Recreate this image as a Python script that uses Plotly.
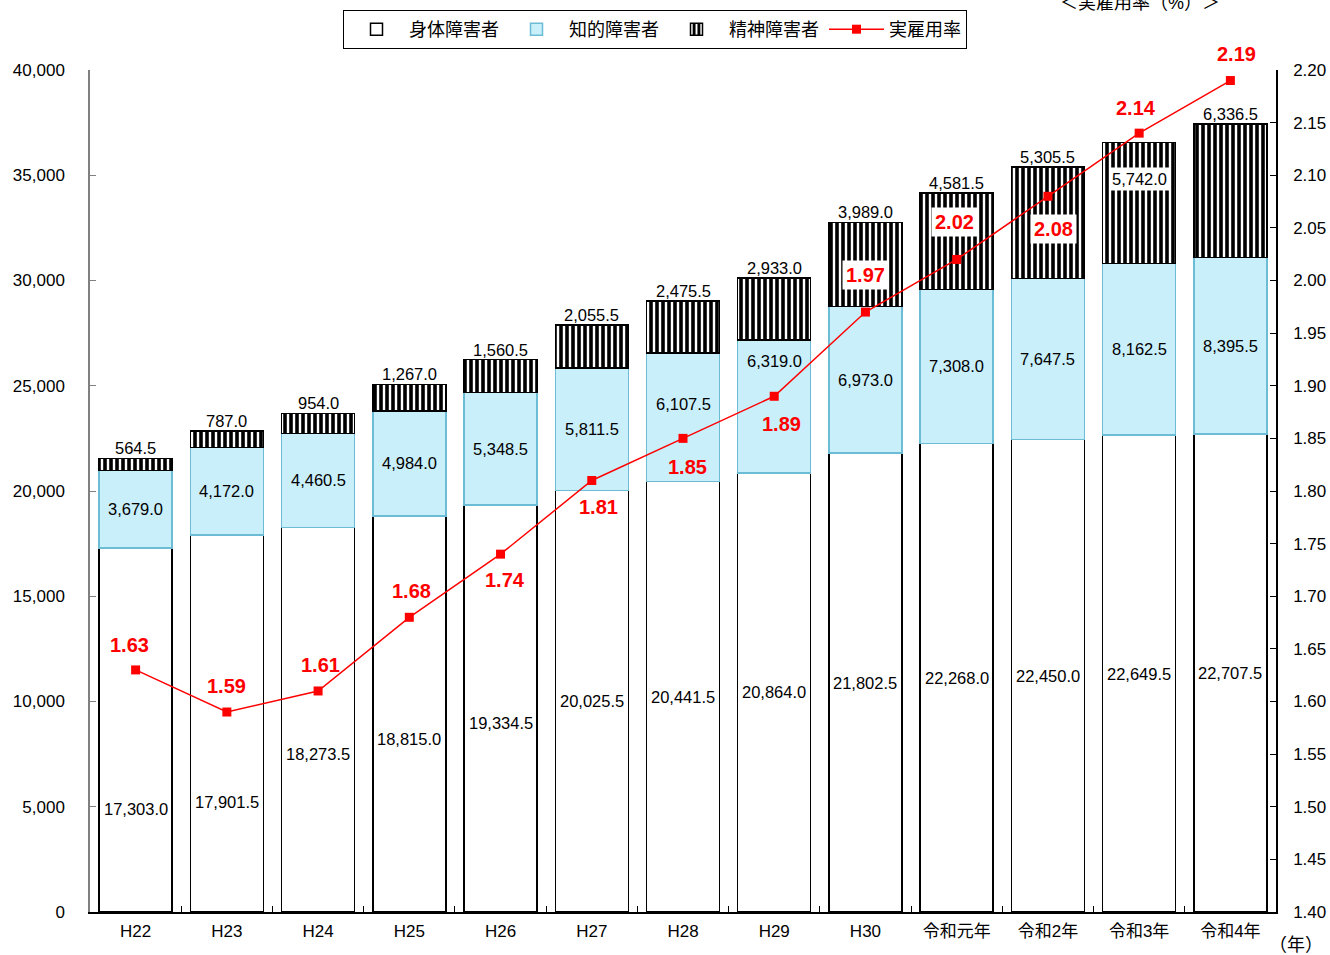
import plotly.graph_objects as go

categories = ["H22", "H23", "H24", "H25", "H26", "H27", "H28", "H29", "H30",
              "令和元年", "令和2年", "令和3年", "令和4年"]
shintai = [17303.0, 17901.5, 18273.5, 18815.0, 19334.5, 20025.5, 20441.5,
           20864.0, 21802.5, 22268.0, 22450.0, 22649.5, 22707.5]
chiteki = [3679.0, 4172.0, 4460.5, 4984.0, 5348.5, 5811.5, 6107.5,
           6319.0, 6973.0, 7308.0, 7647.5, 8162.5, 8395.5]
seishin = [564.5, 787.0, 954.0, 1267.0, 1560.5, 2055.5, 2475.5,
           2933.0, 3989.0, 4581.5, 5305.5, 5742.0, 6336.5]
rate = [1.63, 1.59, 1.61, 1.68, 1.74, 1.81, 1.85, 1.89, 1.97, 2.02, 2.08, 2.14, 2.19]

# label placement (layout only)
shintai_label_y = [4900, 5230, 7500, 8220, 8980] + [None] * 8
chiteki_label_y = [None] * 6 + [24133, 26176] + [None] * 5
rate_shift = [(-6, 25), (0, 26), (2, 26), (2, 26), (4, -26), (7, -27), (4, -29),
              (7, -28), (0, 37), (-2, 37), (6, -33), (-3, 25), (6, 27)]
rate_bg = [False] * 8 + [True, True, True, False, False]

FONT = "Liberation Sans, Arial, Noto Sans CJK JP"

W, H = 1330, 955
ML, MR, MT, MB = 90, 54, 70, 43
PW = W - ML - MR
PH = H - MT - MB

fig = go.Figure()
fig.add_trace(go.Bar(
    x=categories, y=shintai, name="身体障害者",
    marker=dict(color="white", line=dict(color="black", width=1.5)),
    width=0.8))
fig.add_trace(go.Bar(
    x=categories, y=chiteki, name="知的障害者",
    marker=dict(color="#c9effb", line=dict(color="#6cbcd6", width=1.5)),
    width=0.8))
fig.add_trace(go.Bar(
    x=categories, y=seishin, name="精神障害者",
    marker=dict(color="white", line=dict(color="black", width=1.5),
                pattern=dict(shape="|", fgcolor="black", bgcolor="white",
                             size=6, solidity=0.6, fgopacity=1)),
    width=0.8))
fig.add_trace(go.Scatter(
    x=categories, y=rate, name="実雇用率", yaxis="y2", mode="lines+markers",
    line=dict(color="#ff0000", width=1.5),
    marker=dict(symbol="square", size=9, color="#ff0000")))

ann = []
for i, c in enumerate(categories):
    y1 = shintai_label_y[i] if shintai_label_y[i] is not None else shintai[i] / 2
    ann.append(dict(x=c, y=y1, text=f"{shintai[i]:,.1f}", showarrow=False,
                    font=dict(size=16.5, color="black", family=FONT)))
    y2 = chiteki_label_y[i] if chiteki_label_y[i] is not None else shintai[i] + chiteki[i] / 2
    ann.append(dict(x=c, y=y2, text=f"{chiteki[i]:,.1f}", showarrow=False,
                    font=dict(size=16.5, color="black", family=FONT)))
    total = shintai[i] + chiteki[i] + seishin[i]
    if c == "令和3年":
        ann.append(dict(x=c, y=34820, text=f"{seishin[i]:,.1f}", showarrow=False,
                        bgcolor="white", borderpad=2,
                        font=dict(size=16.5, color="black", family=FONT)))
    else:
        ann.append(dict(x=c, y=total, text=f"{seishin[i]:,.1f}", showarrow=False,
                        yanchor="bottom", yshift=-1,
                        font=dict(size=16.5, color="black", family=FONT)))
    dx, dy = rate_shift[i]
    ann.append(dict(x=c, y=rate[i], yref="y2", text=f"<b>{rate[i]:.2f}</b>",
                    showarrow=False, xshift=dx, yshift=dy,
                    bgcolor="white" if rate_bg[i] else None, borderpad=3,
                    font=dict(size=20, color="#ff0000", family=FONT)))

# "<実雇用率(%)>" title, top right (partly above the page edge, as in the source)
ann.append(dict(xref="paper", yref="paper", x=(1222 - ML) / PW,
                y=1 + (MT - 3) / PH, yanchor="middle", text="＜実雇用率（%）＞",
                showarrow=False, font=dict(size=18, color="black", family=FONT)))
ann.append(dict(xref="paper", yref="paper", x=1.0, y=0, xanchor="center",
                yanchor="middle", xshift=20, yshift=-33,
                text="（年）", showarrow=False,
                font=dict(size=18, color="black", family=FONT)))

fig.update_layout(
    width=W, height=H,
    margin=dict(l=ML, r=MR, t=MT, b=MB, autoexpand=False),
    barmode="stack", bargap=0.2,
    plot_bgcolor="white", paper_bgcolor="white",
    font=dict(family=FONT, size=17, color="black"),
    showlegend=True,
    legend=dict(orientation="h", x=(655 - ML) / PW, xanchor="center",
                y=1 + (MT - 10) / PH, yanchor="top", bordercolor="black", borderwidth=1,
                bgcolor="white", font=dict(size=18, family="Noto Sans CJK JP"),
                traceorder="normal", itemwidth=55),
    xaxis=dict(type="category", showline=True, linecolor="black", linewidth=1.5,
               ticks="inside", tickson="boundaries", ticklen=6, tickcolor="black",
               range=[-0.5, 12.5], tickfont=dict(size=17, family=FONT),
               ticklabelstandoff=3, automargin=False),
    yaxis=dict(range=[0, 40000], dtick=5000, tickformat=",", showgrid=False,
               showline=True, linecolor="#808080", linewidth=1.5,
               ticks="inside", ticklen=6, tickcolor="#808080", zeroline=False,
               tickfont=dict(size=17), ticklabelstandoff=20, automargin=False),
    yaxis2=dict(range=[1.40, 2.20], dtick=0.05, tickformat=".2f", overlaying="y",
                side="right", showgrid=False, showline=True, linecolor="black",
                linewidth=1.5, ticks="inside", ticklen=6, tickcolor="black",
                zeroline=False, tickfont=dict(size=17), ticklabelstandoff=12,
                automargin=False),
    annotations=ann,
)

# remove the default page margin so the figure fills the 1330x955 window
fig.write_html("out.html",
               config={"displayModeBar": False},
               post_script="document.body.style.margin='0';"
                           "document.body.style.overflow='hidden';")
